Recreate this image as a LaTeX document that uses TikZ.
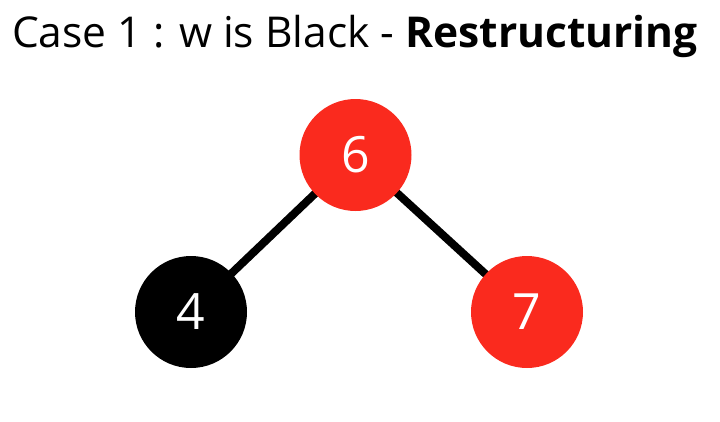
\documentclass[tikz,border=0pt]{standalone}
\usepackage{fontspec}
\setmainfont{Open Sans}
\usetikzlibrary{backgrounds}
\definecolor{nodered}{RGB}{250,42,30}
\begin{document}
\begin{tikzpicture}[x=1pt,y=-1pt,
  rbnode/.style={circle,minimum size=112pt,inner sep=0pt,text=white,font=\fontsize{50}{50}\selectfont},
  rednode/.style={rbnode,fill=nodered},
  blacknode/.style={rbnode,fill=black},
  edge/.style={line width=8pt,black}]
\useasboundingbox (0,0) rectangle (720,421);
\node[font=\fontsize{42.5}{42.5}\selectfont] (title) at (355,36) {Case 1 : w is Black - \textbf{Restructuring}};
\node[rednode] (n6) at (355.5,155) {6};
\node[blacknode] (n4) at (191,312) {4};
\node[rednode] (n7) at (527,312) {7};
\begin{scope}[on background layer]
\draw[edge] (n6.center) -- (n4.center);
\draw[edge] (n6.center) -- (n7.center);
\end{scope}
\end{tikzpicture}
\end{document}
